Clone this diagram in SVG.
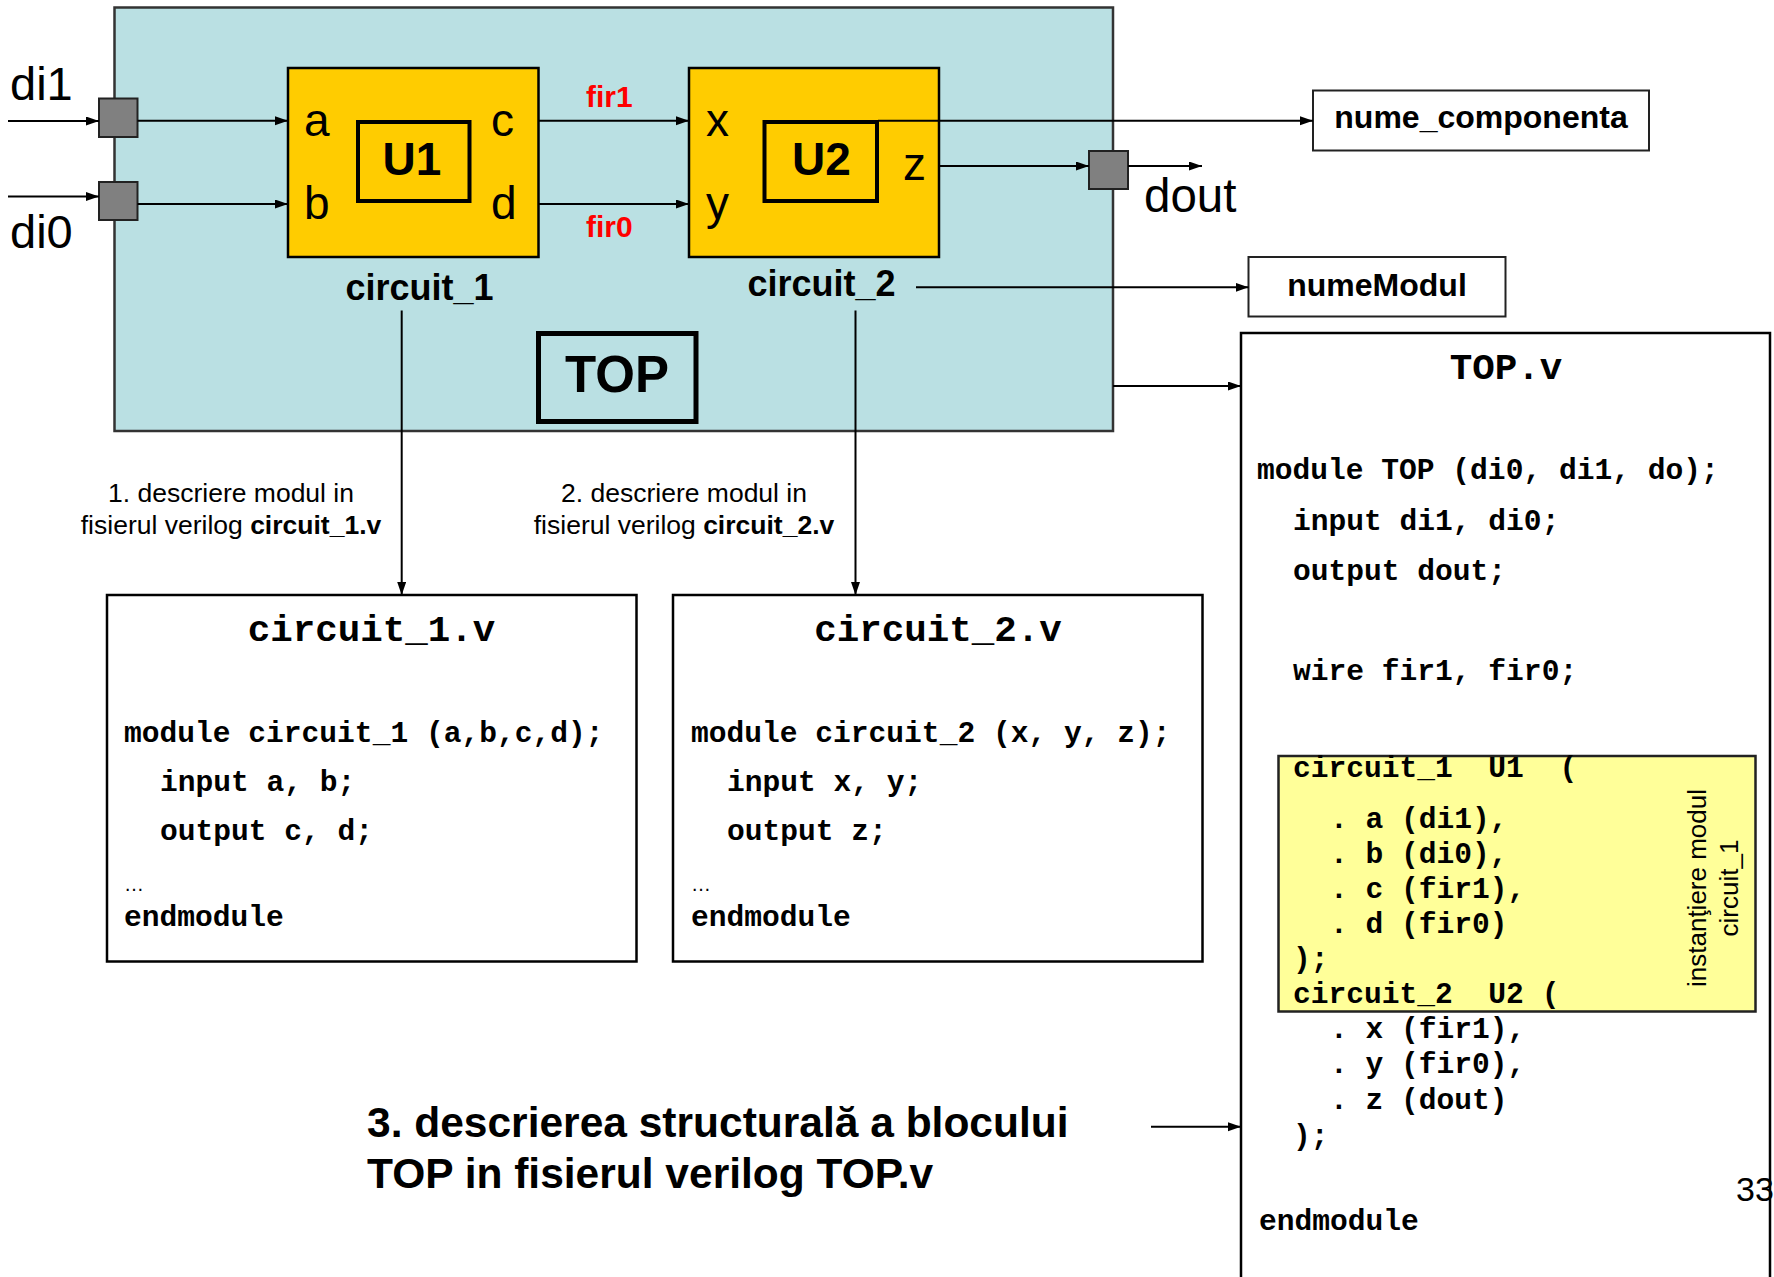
<svg xmlns="http://www.w3.org/2000/svg" width="1774" height="1277" viewBox="0 0 1774 1277">
  <defs>
    <marker id="ah" markerUnits="userSpaceOnUse" markerWidth="14" markerHeight="10" refX="13" refY="4.5" orient="auto">
      <path d="M0,0 L13,4.5 L0,9 z" fill="#000"/>
    </marker>
    <style>
      .sans { font-family: "Liberation Sans", Arial, sans-serif; fill: #000; }
      .b { font-weight: bold; }
      .mono { font-family: "Liberation Mono", "Courier New", monospace; font-weight: bold; fill: #000; }
      .code { font-size: 29.6px; }
      .wire { stroke: #000; stroke-width: 2; fill: none; }
      .arr { marker-end: url(#ah); }
      .port { fill: #808080; stroke: #222; stroke-width: 2; }
      .circ { fill: #FFCC00; stroke: #000; stroke-width: 2.5; }
      .inst { fill: none; stroke: #000; stroke-width: 4; }
      .file { fill: #fff; stroke: #000; stroke-width: 2.5; }
      .tag { fill: #fff; stroke: #222; stroke-width: 2; }
      .pin { font-size: 46px; }
      .wname { font-size: 30px; font-weight: bold; fill: #FF0000; }
    </style>
  </defs>

  <rect width="1774" height="1277" fill="#fff"/>

  <!-- top-level block -->
  <g id="top-block">
    <rect x="114.5" y="7.5" width="998.5" height="423.5" fill="#BAE0E3" stroke="#333" stroke-width="2.5"/>
    <rect x="538.5" y="333.5" width="157.5" height="88" fill="none" stroke="#000" stroke-width="5"/>
    <text x="617" y="392" class="sans b" font-size="51" text-anchor="middle">TOP</text>
  </g>

  <!-- ports -->
  <g id="port-di1">
    <rect class="port" x="99" y="98.5" width="38.5" height="38.5"/>
    <text x="10" y="100" class="sans" font-size="47">di1</text>
  </g>
  <g id="port-di0">
    <rect class="port" x="99" y="182" width="38.5" height="38"/>
    <text x="10" y="248" class="sans" font-size="47">di0</text>
  </g>
  <g id="port-dout">
    <rect class="port" x="1089" y="151" width="39" height="38"/>
    <text x="1144" y="212" class="sans" font-size="47.5">dout</text>
  </g>

  <!-- instance U1 -->
  <g id="u1">
    <rect class="circ" x="288" y="68" width="250.5" height="189"/>
    <rect class="inst" x="358" y="122" width="111.5" height="79"/>
    <text x="412" y="175" class="sans b" font-size="46" text-anchor="middle">U1</text>
    <text x="304" y="136" class="sans pin">a</text>
    <text x="304" y="219" class="sans pin">b</text>
    <text x="491" y="136" class="sans pin">c</text>
    <text x="491" y="219" class="sans pin">d</text>
    <text x="419.5" y="300" class="sans b" font-size="36" text-anchor="middle">circuit_1</text>
  </g>

  <!-- instance U2 -->
  <g id="u2">
    <rect class="circ" x="689" y="68" width="250" height="189"/>
    <rect class="inst" x="764.5" y="122" width="112.5" height="79"/>
    <text x="821.5" y="175" class="sans b" font-size="46" text-anchor="middle">U2</text>
    <text x="706" y="136" class="sans pin">x</text>
    <text x="706" y="219" class="sans pin">y</text>
    <text x="903" y="180" class="sans pin">z</text>
    <text x="821.5" y="296" class="sans b" font-size="36" text-anchor="middle">circuit_2</text>
  </g>

  <!-- internal net names -->
  <g id="nets">
    <text x="586" y="107" class="sans wname">fir1</text>
    <text x="586" y="237" class="sans wname">fir0</text>
  </g>

  <!-- name tags -->
  <g id="tag-nume-componenta">
    <rect class="tag" x="1313" y="90.5" width="336" height="60"/>
    <text x="1481" y="128" class="sans b" font-size="32" text-anchor="middle">nume_componenta</text>
  </g>
  <g id="tag-numemodul">
    <rect class="tag" x="1248.5" y="257" width="257" height="59.5"/>
    <text x="1377" y="296" class="sans b" font-size="32" text-anchor="middle">numeModul</text>
  </g>

  <!-- step labels -->
  <g id="label-step1">
    <text x="231" y="502" class="sans" font-size="26.5" text-anchor="middle">1. descriere modul in</text>
    <text x="231" y="534" class="sans" font-size="26.5" text-anchor="middle">fisierul verilog <tspan class="b">circuit_1.v</tspan></text>
  </g>
  <g id="label-step2">
    <text x="684" y="502" class="sans" font-size="26.5" text-anchor="middle">2. descriere modul in</text>
    <text x="684" y="534" class="sans" font-size="26.5" text-anchor="middle">fisierul verilog <tspan class="b">circuit_2.v</tspan></text>
  </g>
  <g id="label-step3">
    <text x="367" y="1137" class="sans b" font-size="42.5">3. descrierea structurală a blocului</text>
    <text x="367" y="1188" class="sans b" font-size="42.5">TOP in fisierul verilog TOP.v</text>
  </g>

  <!-- file circuit_1.v -->
  <g id="file-circuit1">
    <rect class="file" x="107" y="595" width="529.5" height="366.5"/>
    <text x="371.5" y="641" class="mono" font-size="37.5" text-anchor="middle">circuit_1.v</text>
    <text x="124" y="742" class="mono code">module circuit_1 (a,b,c,d);</text>
    <text x="160" y="791" class="mono code">input a, b;</text>
    <text x="160" y="840" class="mono code">output c, d;</text>
    <text x="124" y="891" class="sans" font-size="20">…</text>
    <text x="124" y="926" class="mono code">endmodule</text>
  </g>

  <!-- file circuit_2.v -->
  <g id="file-circuit2">
    <rect class="file" x="673" y="595" width="529.5" height="366.5"/>
    <text x="938" y="641" class="mono" font-size="37.5" text-anchor="middle">circuit_2.v</text>
    <text x="691" y="742" class="mono code">module circuit_2 (x, y, z);</text>
    <text x="727" y="791" class="mono code">input x, y;</text>
    <text x="727" y="840" class="mono code">output z;</text>
    <text x="691" y="891" class="sans" font-size="20">…</text>
    <text x="691" y="926" class="mono code">endmodule</text>
  </g>

  <!-- file TOP.v -->
  <g id="file-top">
    <rect class="file" x="1241" y="333" width="529" height="960"/>
    <text x="1506" y="379" class="mono" font-size="37.5" text-anchor="middle">TOP.v</text>
    <text x="1257" y="479" class="mono code">module TOP (di0, di1, do);</text>
    <text x="1293" y="530" class="mono code">input di1, di0;</text>
    <text x="1293" y="580" class="mono code">output dout;</text>
    <text x="1293" y="680" class="mono code">wire fir1, fir0;</text>

    <rect x="1278.5" y="756" width="477" height="255.5" fill="#FFFF99" stroke="#222" stroke-width="2.5"/>
    <text x="1293" y="777" class="mono code" xml:space="preserve">circuit_1  U1  (</text>
    <text x="1330" y="828" class="mono code">. a (di1),</text>
    <text x="1330" y="863" class="mono code">. b (di0),</text>
    <text x="1330" y="898" class="mono code">. c (fir1),</text>
    <text x="1330" y="933" class="mono code">. d (fir0)</text>
    <text x="1293" y="968" class="mono code">);</text>
    <text x="1293" y="1003" class="mono code" xml:space="preserve">circuit_2  U2 (</text>
    <text x="1330" y="1038" class="mono code">. x (fir1),</text>
    <text x="1330" y="1073" class="mono code">. y (fir0),</text>
    <text x="1330" y="1109" class="mono code">. z (dout)</text>
    <text x="1293" y="1145" class="mono code">);</text>
    <text x="1259" y="1230" class="mono code">endmodule</text>

    <text transform="translate(1706,888) rotate(-90)" class="sans" font-size="26" text-anchor="middle">instanţiere modul</text>
    <text transform="translate(1738,888) rotate(-90)" class="sans" font-size="26" text-anchor="middle">circuit_1</text>
  </g>

  <!-- page number -->
  <text x="1736" y="1201" class="sans" font-size="34">33</text>

  <!-- connectors -->
  <g id="connectors">
    <line class="wire arr" x1="8" y1="121" x2="99" y2="121"/>
    <line class="wire arr" x1="8" y1="196.5" x2="99" y2="196.5"/>
    <line class="wire arr" x1="137.5" y1="120.7" x2="288" y2="120.7"/>
    <line class="wire arr" x1="137.5" y1="204" x2="288" y2="204"/>
    <line class="wire arr" x1="538.5" y1="120.7" x2="689" y2="120.7"/>
    <line class="wire arr" x1="538.5" y1="204" x2="689" y2="204"/>
    <line class="wire arr" x1="939" y1="166" x2="1089" y2="166"/>
    <line class="wire arr" x1="1128" y1="166" x2="1202" y2="166"/>
    <line class="wire arr" x1="878" y1="120.7" x2="1313" y2="120.7"/>
    <line class="wire arr" x1="916" y1="287.3" x2="1248.5" y2="287.3"/>
    <line class="wire arr" x1="1113" y1="386" x2="1241" y2="386"/>
    <line class="wire arr" x1="401.7" y1="310.5" x2="401.7" y2="595"/>
    <line class="wire arr" x1="855.5" y1="310.5" x2="855.5" y2="595"/>
    <line class="wire arr" x1="1151" y1="1126.7" x2="1241" y2="1126.7"/>
  </g>
</svg>
